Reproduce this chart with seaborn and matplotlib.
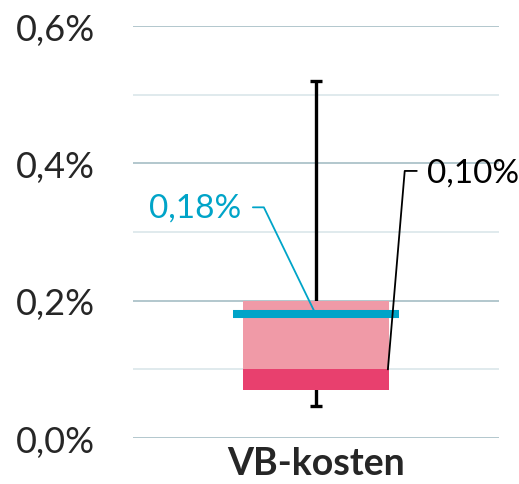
import pandas as pd
import seaborn as sns
import matplotlib.pyplot as plt
from matplotlib.ticker import FixedLocator, FuncFormatter

# values in percent
category = ["VB-kosten"]
range_low = [0.07]
median_val = [0.10]
range_high = [0.20]
mean_val = [0.18]
whisker_low = [0.047]
whisker_high = [0.52]
y_major = [0.0, 0.2, 0.4, 0.6]
y_minor = [0.1, 0.3, 0.5]

blue = "#00A4C8"
light_pink = "#F09AA7"
dark_pink = "#E8406E"

sns.set_theme(style="white")
plt.rcParams['font.family'] = ['Lato', 'DejaVu Sans']

df = pd.DataFrame({"cat": category, "low": range_low, "med": median_val,
                   "high": range_high})
df["upper"] = df["high"] - df["med"]
df["lower"] = df["med"] - df["low"]

fig = plt.figure(figsize=(5.19, 4.85), dpi=100)
ax = fig.add_axes([0.256, 0.0948, 0.705, 0.8494])

# whisker behind the box
ax.vlines(0, whisker_low[0], whisker_high[0], color="black", lw=2.4, zorder=2)
ax.hlines([whisker_low[0], whisker_high[0]], -0.016, 0.016, color="black",
          lw=2.4, zorder=2)

sns.barplot(data=df, x="cat", y="upper", bottom=df["med"], color=light_pink,
            width=0.4, saturation=1, linewidth=0, edgecolor="none", ax=ax,
            zorder=3)
sns.barplot(data=df, x="cat", y="lower", bottom=df["low"], color=dark_pink,
            width=0.4, saturation=1, linewidth=0, edgecolor="none", ax=ax,
            zorder=3)

# mean line
ax.hlines(mean_val[0], -0.227, 0.227, color=blue, lw=5.8, zorder=4)

ax.set_xlim(-0.5, 0.5)
ax.set_ylim(0, 0.6)
ax.yaxis.set_major_locator(FixedLocator(y_major))
ax.yaxis.set_minor_locator(FixedLocator(y_minor))
ax.yaxis.set_major_formatter(FuncFormatter(lambda v, p: f"{v:.1f}%".replace(".", ",")))
ax.grid(axis="y", which="major", color="#A5BDC5", lw=1.2, zorder=0)
ax.grid(axis="y", which="minor", color="#DAE6EA", lw=1.2, zorder=0)
ax.set_axisbelow(True)
for s in ax.spines.values():
    s.set_visible(False)
ax.tick_params(axis="y", which="both", length=0, labelsize=26, pad=27)
ax.tick_params(axis="x", length=0, labelsize=27, pad=6)
for t in ax.get_xticklabels():
    t.set_fontweight("bold")
ax.set_xlabel("")
ax.set_ylabel("")

# annotations
ax.plot([-0.172, -0.142, 0.0], [0.336, 0.336, mean_val[0]], color=blue,
        lw=1.3, zorder=5, clip_on=False)
ax.text(-0.205, 0.336, f"{mean_val[0]:.2f}%".replace(".", ","), color=blue,
        fontsize=24, ha="right", va="center")
ax.plot([0.276, 0.243, 0.197], [0.389, 0.389, median_val[0]], color="black",
        lw=1.3, zorder=5, clip_on=False)
ax.text(0.303, 0.387, f"{median_val[0]:.2f}%".replace(".", ","), color="black",
        fontsize=24, ha="left", va="center")

fig.savefig("out.png", dpi=100)
